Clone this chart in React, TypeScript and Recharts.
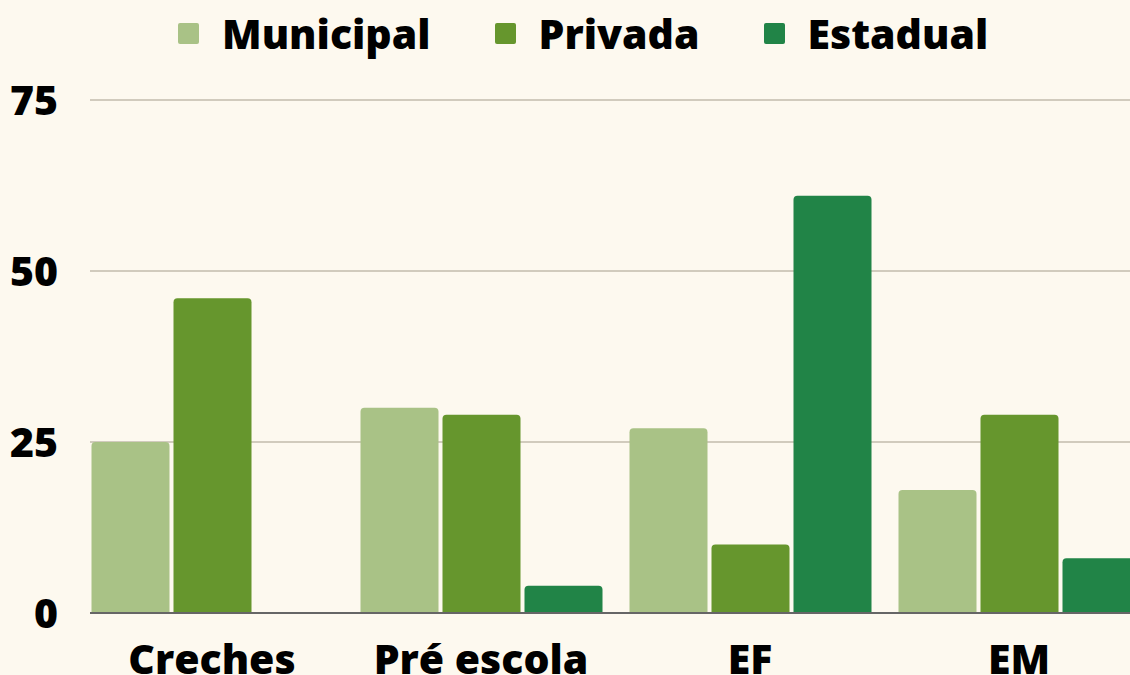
import React from 'react';
import { BarChart, Bar, XAxis, YAxis, CartesianGrid, Legend } from 'recharts';

const categories = ['Creches', 'Pré escola', 'EF', 'EM'];
const municipal = [25, 30, 27, 18];
const privada = [46, 29, 10, 29];
const estadual = [0, 4, 61, 8];
const yTicks = [0, 25, 50, 75];

const seriesDefs = [
  { key: 'municipal', name: 'Municipal', color: '#a9c286' },
  { key: 'privada', name: 'Privada', color: '#66962d' },
  { key: 'estadual', name: 'Estadual', color: '#218447' },
];

const data = categories.map((c, i) => ({
  name: c,
  municipal: municipal[i],
  privada: privada[i],
  estadual: estadual[i],
}));

const FONT = "'Open Sans', 'DejaVu Sans', sans-serif";

const renderLegend = () => (
  <div
    style={{
      height: 66,
      width: 1130,
      display: 'flex',
      justifyContent: 'flex-start',
      alignItems: 'center',
      boxSizing: 'border-box',
      paddingLeft: 178,
    }}
  >
    {seriesDefs.map((s, i) => (
      <div
        key={s.key}
        style={{
          display: 'flex',
          alignItems: 'center',
          marginLeft: i === 0 ? 0 : 64,
        }}
      >
        <div style={{ width: 21, height: 21, background: s.color, borderRadius: 2, marginRight: 23 }} />
        <span
          style={{
            fontFamily: FONT,
            fontWeight: 800,
            fontSize: 41,
            color: '#000',
            lineHeight: '44px',
          }}
        >
          {s.name}
        </span>
      </div>
    ))}
  </div>
);

export default function App() {
  return (
    <div
      style={{
        position: 'fixed',
        left: 0,
        top: 0,
        width: 1130,
        height: 675,
        background: '#fdf9ef',
        overflow: 'hidden',
      }}
    >
      <BarChart
        width={1130}
        height={675}
        data={data}
        margin={{ top: 34, right: 0, bottom: 0, left: 0 }}
        barSize={78}
        barGap={4}
      >
        <Legend verticalAlign="top" content={renderLegend} wrapperStyle={{ top: 0, left: 0, width: 1130 }} />
        <CartesianGrid vertical={false} stroke="#c2bbad" strokeWidth={1.5} />
        <XAxis
          dataKey="name"
          interval={0}
          height={62}
          padding={{ left: -12.5, right: -23.5 }}
          tickSize={0}
          tickLine={false}
          tickMargin={32}
          axisLine={{ stroke: '#666', strokeWidth: 2 }}
          tick={{ fill: '#000', fontSize: 41, fontWeight: 800, fontFamily: FONT }}
        />
        <YAxis
          domain={[0, 75]}
          ticks={yTicks}
          width={90}
          axisLine={false}
          tickLine={false}
          tickSize={0}
          tickMargin={32}
          tick={{ fill: '#000', fontSize: 41, fontWeight: 800, fontFamily: FONT }}
        />
        {seriesDefs.map((s) => (
          <Bar
            key={s.key}
            dataKey={s.key}
            name={s.name}
            fill={s.color}
            radius={[4, 4, 0, 0]}
            isAnimationActive={false}
          />
        ))}
      </BarChart>
    </div>
  );
}
